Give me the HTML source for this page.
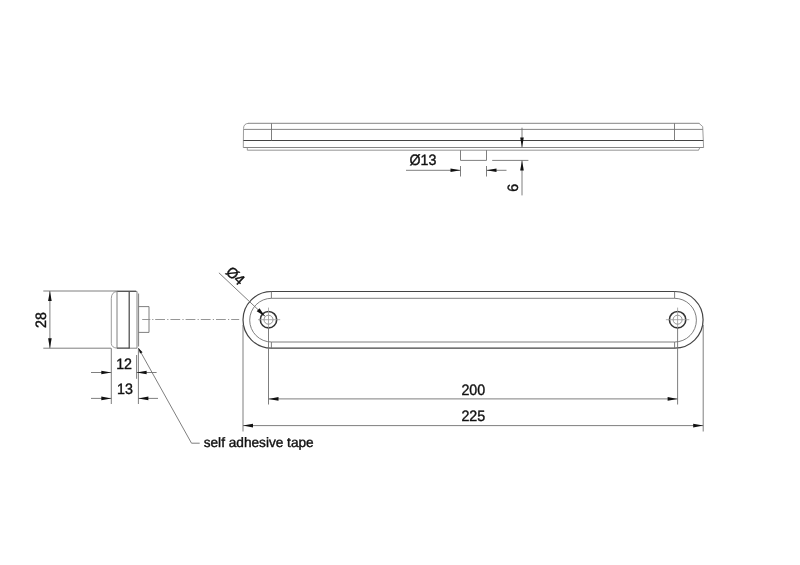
<!DOCTYPE html>
<html>
<head>
<meta charset="utf-8">
<title>Drawing</title>
<style>
html,body{margin:0;padding:0;background:#fff;}
body{width:800px;height:565px;overflow:hidden;}
svg{display:block;filter:grayscale(1);}
text{font-family:"Liberation Sans",Arial,sans-serif;font-size:15px;text-rendering:geometricPrecision;fill:#111;stroke:#111;stroke-width:.4;}
text.n{font-size:13.65px;}
.t{stroke:#707070;stroke-width:.9;fill:none;}
.c{stroke:#8a8a8a;stroke-width:.9;fill:none;}
.h{stroke:#333;stroke-width:1.6;fill:none;}
.x{stroke:#999;stroke-width:.8;fill:none;}
.m{stroke:#777;stroke-width:.9;fill:none;}
.l{stroke:#8a8a8a;stroke-width:.85;fill:none;}
.k{stroke:#444;stroke-width:1.2;fill:none;}
.a{fill:#111;stroke:none;}
</style>
</head>
<body>
<svg width="800" height="565" viewBox="0 0 800 565">
<rect width="800" height="565" fill="#fff"/>

<!-- TOP VIEW -->
<g>
<path class="l" d="M243.3 147.5 L243.5 128.5 Q243.6 123.3 249 123.3 M699 123.3 L702.7 126.6 L703.6 147.5"/>
<path class="m" d="M248.5 123.3 H699.3"/>
<path class="m" d="M243.3 147.5 H703.6"/>
<path class="m" d="M244 129.4 H702.8"/>
<path class="k" d="M243.4 140.5 H703.3"/>
<path class="t" d="M271.5 123.3 V140.5 M674.5 123.3 V140.5"/>
<path class="l" d="M247.3 147.5 V150.2 M698 150.2 Q699.6 150 699.6 147.5"/>
<path class="c" d="M247.3 150.2 H698.5"/>
<path class="t" d="M460.5 150.2 V160.4 H486.5 V150.2"/>
<!-- dia 13 -->
<path class="t" d="M460.5 166 V176.5 M486.5 166 V176.5 M406 170.3 H460.5 M486.5 170.3 H506.5"/>
<path class="a" d="M460.5 170.3 L450.5 168.5 L450.5 172.1 Z"/>
<path class="a" d="M486.5 170.3 L496.5 168.5 L496.5 172.1 Z"/>
<text transform="translate(409.4 165.2) scale(.95 1)">Ø13</text>
<!-- 6 -->
<path class="t" d="M522 127.7 V147.5 M492.2 160.4 H528.4 M522 160.4 V195.4"/>
<path class="a" d="M522 147.5 L520.2 137.5 L523.8 137.5 Z"/>
<path class="a" d="M522 160.4 L520.2 170.4 L523.8 170.4 Z"/>
<text transform="translate(518 187.8) rotate(-90) scale(.95 1)" text-anchor="middle">6</text>
</g>

<!-- FRONT VIEW -->
<g>
<rect class="k" x="243" y="291.5" width="460.1" height="56.7" rx="28.35" ry="28.35"/>
<rect class="t" x="249.7" y="298.3" width="446.7" height="43.7" rx="21.85" ry="21.85"/>
<path class="t" d="M271.4 291.5 V298.3 M271.4 342 V348.2 M674.6 291.5 V298.3 M674.6 342 V348.2"/>
<!-- holes -->
<circle class="h" cx="268.5" cy="319.7" r="8.2"/>
<circle class="c" cx="268.5" cy="319.7" r="4.5"/>
<path class="x" d="M258 319.7 H280.2 M268.5 307.6 V328"/><path class="t" d="M268.5 328 V404.5"/>
<circle class="h" cx="677.6" cy="319.7" r="8.2"/>
<circle class="c" cx="677.6" cy="319.7" r="4.5"/>
<path class="x" d="M665.9 319.7 H689.3 M677.6 307.6 V328"/><path class="t" d="M677.6 328 V404.5"/>
<!-- dia 4 leader -->
<path class="t" d="M218.9 272.8 L264.8 316"/>
<path class="a" d="M265.2 316.4 L256.7 311.2 L259.5 308.2 Z"/>
<text transform="translate(235.5 275.5) rotate(43.5) scale(.95 1)" text-anchor="middle" y="5.4">Ø4</text>
<!-- dims -->
<path class="t" d="M243 325 V431.5 M703.2 325 V431.5"/>
<path class="t" d="M268.5 398.9 H677.6 M243 425.6 H703.2"/>
<path class="a" d="M268.5 398.9 L278.5 397.1 L278.5 400.7 Z"/>
<path class="a" d="M677.6 398.9 L667.6 397.1 L667.6 400.7 Z"/>
<path class="a" d="M243 425.6 L253 423.8 L253 427.4 Z"/>
<path class="a" d="M703.2 425.6 L693.2 423.8 L693.2 427.4 Z"/>
<text transform="translate(473.3 394.7) scale(.95 1)" text-anchor="middle">200</text>
<text transform="translate(473.3 421.3) scale(.95 1)" text-anchor="middle">225</text>
</g>

<!-- SIDE VIEW -->
<g>
<path class="l" d="M117.5 291.4 Q111.4 291.8 111.3 298.5 V343.5 Q111.6 347.6 117 348.2"/>
<path class="m" d="M117 291.4 H137 V348.2 H129"/>
<path class="k" d="M117.5 291.5 H136 M117 348.1 H129.5"/>
<path class="t" d="M117 291.6 V348"/>
<path class="k" d="M129.2 291.4 V348.2"/>
<path class="t" d="M138.6 293.5 V346.5"/>
<path class="t" d="M138.6 306.6 H149 V332.4 H138.6"/>
<!-- center line -->
<path class="c" d="M142.2 319.5 H150.3 M152.2 319.5 H153.4"/>
<path class="c" stroke-dasharray="9.8 2.2 1.2 2" d="M155.2 319.5 H239.2"/>
<!-- 28 -->
<path class="t" d="M43.3 291 H136 M43.3 348.2 H111 M49.9 291 V348.2"/>
<path class="a" d="M49.9 291 L48.1 301 L51.7 301 Z"/>
<path class="a" d="M49.9 348.2 L48.1 338.2 L51.7 338.2 Z"/>
<text transform="translate(45.9 320) rotate(-90) scale(.95 1)" text-anchor="middle">28</text>
<!-- 12 / 13 -->
<path class="t" d="M111.3 348.2 V404 M136.6 355 V378.8 M138.4 348.2 V404"/>
<path class="t" d="M91 372.5 H111.3 M136.6 372.5 H156.6 M91 398.4 H111.3 M138.4 398.4 H158"/>
<path class="a" d="M111.3 372.5 L101.3 370.7 L101.3 374.3 Z"/>
<path class="a" d="M136.6 372.5 L146.6 370.7 L146.6 374.3 Z"/>
<path class="a" d="M111.3 398.4 L101.3 396.6 L101.3 400.2 Z"/>
<path class="a" d="M138.4 398.4 L148.4 396.6 L148.4 400.2 Z"/>
<text transform="translate(124.1 369) scale(.95 1)" text-anchor="middle">12</text>
<text transform="translate(125 394.1) scale(.95 1)" text-anchor="middle">13</text>
<!-- leader -->
<path class="t" d="M138.5 348.2 L191.5 443.2 H199.7"/>
<path class="a" d="M138.3 348 L140 353.6 L142.6 352.2 Z"/>
<text class="n" transform="translate(203.7 446.8)">self adhesive tape</text>
</g>
</svg>
</body>
</html>
